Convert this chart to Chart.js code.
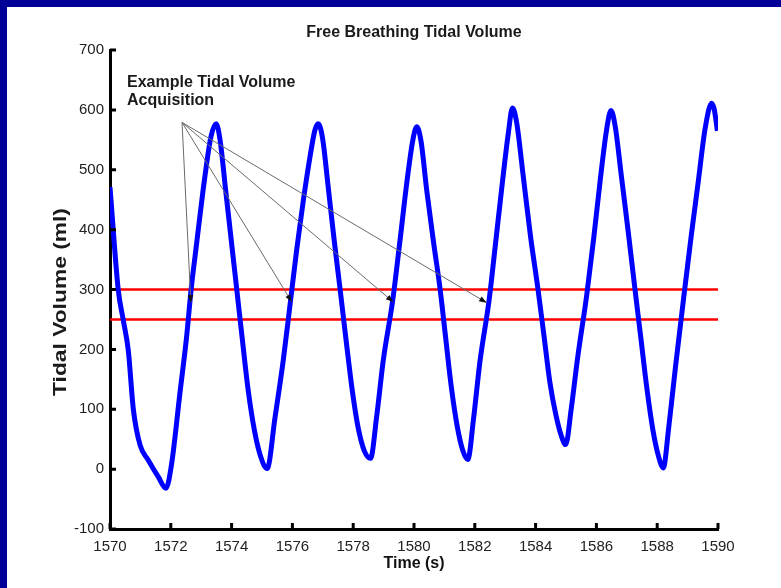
<!DOCTYPE html>
<html>
<head>
<meta charset="utf-8">
<script src="https://cdn.jsdelivr.net/npm/chart.js@4.4.0/dist/chart.umd.min.js"></script>
<style>
  html, body { margin: 0; padding: 0; background: #fff; }
  #wrap { position: relative; width: 781px; height: 588px; overflow: hidden; }
  #tidal { position: absolute; left: 0; top: 0; }
  .band { position: absolute; background: #000099; }
</style>
</head>
<body>
<div id="wrap">
  <canvas id="tidal" width="781" height="588"></canvas>
  <div class="band" style="left:0;top:0;width:781px;height:7px"></div>
  <div class="band" style="left:0;top:0;width:7px;height:588px"></div>
</div>
<script>
// Data

var times = [
  1570.00, 1570.27, 1570.44, 1570.60, 1570.77, 1570.99, 1571.26, 1571.59, 1571.84,
  1572.03, 1572.30, 1572.52, 1572.66, 1572.85, 1573.12, 1573.32, 1573.49,
  1573.62, 1573.80, 1574.00, 1574.17, 1574.35, 1574.55, 1574.75, 1574.95, 1575.17,
  1575.43, 1575.70, 1575.94, 1576.14, 1576.36, 1576.58, 1576.74, 1576.85,
  1577.00, 1577.18, 1577.38, 1577.57, 1577.76, 1577.96, 1578.16, 1578.37, 1578.57,
  1578.77, 1578.99, 1579.30, 1579.54, 1579.76, 1579.96, 1580.09,
  1580.23, 1580.42, 1580.64, 1580.86, 1581.04, 1581.22, 1581.42, 1581.60, 1581.77,
  1581.96, 1582.17, 1582.47, 1582.70, 1582.91, 1583.10, 1583.24,
  1583.38, 1583.58, 1583.83, 1584.08, 1584.27, 1584.47, 1584.67, 1584.85, 1584.99,
  1585.17, 1585.38, 1585.68, 1585.91, 1586.12, 1586.33, 1586.48,
  1586.62, 1586.82, 1587.05, 1587.27, 1587.46, 1587.66, 1587.86, 1588.04, 1588.20,
  1588.38, 1588.60, 1588.88, 1589.12, 1589.35, 1589.58, 1589.79, 1589.88, 1589.98
];
var volumes = [
  471, 300, 248, 199, 99, 40, 15, -13, -32,
  10, 127, 221, 296, 377, 488, 555, 577,
  550, 468, 377, 300, 218, 130, 65, 22, 1,
  87, 182, 282, 366, 449, 522, 566, 577,
  550, 470, 380, 300, 218, 135, 70, 30, 18,
  87, 182, 282, 382, 477, 549, 572,
  548, 465, 380, 300, 220, 140, 72, 32, 16,
  85, 180, 282, 385, 480, 560, 603,
  578, 495, 390, 300, 225, 145, 90, 55, 41,
  100, 185, 290, 385, 480, 565, 599,
  572, 490, 395, 300, 220, 135, 65, 22, 2,
  70, 170, 290, 390, 480, 570, 611, 600, 565
];

// threshold lines (ml)
var thresholds = [300, 250];

// annotation arrows: common origin and tips (time, volume)
var arrowFrom = [1572.37, 579];
var arrowTipTimes = [1572.66, 1575.98, 1579.32, 1582.39];
var arrowTipVolumes = [278, 279, 279, 278];

var noteLines = ['Example Tidal Volume', 'Acquisition'];

var xTicks = [1570, 1572, 1574, 1576, 1578, 1580, 1582, 1584, 1586, 1588, 1590];
var yTicks = [-100, 0, 100, 200, 300, 400, 500, 600, 700];

var FONT = '"Liberation Sans", Arial, Helvetica, sans-serif';

var curve = times.map(function (t, i) { return { x: t, y: volumes[i] }; });

var datasets = [{
  data: curve,
  showLine: true,
  borderColor: '#0000ff',
  borderWidth: 5,
  pointRadius: 0,
  cubicInterpolationMode: 'monotone'
}];
thresholds.forEach(function (v) {
  datasets.push({
    data: [{ x: xTicks[0], y: v }, { x: xTicks[xTicks.length - 1], y: v }],
    showLine: true,
    borderColor: '#ff0000',
    borderWidth: 2.5,
    pointRadius: 0
  });
});

// inward MATLAB style ticks, title and y label
var frame = {
  id: 'frame',
  afterDraw: function (chart) {
    var ctx = chart.ctx, a = chart.chartArea;
    var sx = chart.scales.x, sy = chart.scales.y;
    ctx.save();
    ctx.strokeStyle = '#000';
    ctx.lineWidth = 3;
    ctx.beginPath();
    yTicks.forEach(function (v) {
      var py = sy.getPixelForValue(v);
      ctx.moveTo(a.left, py);
      ctx.lineTo(a.left + 6, py);
    });
    xTicks.forEach(function (v) {
      var px = sx.getPixelForValue(v);
      ctx.moveTo(px, a.bottom);
      ctx.lineTo(px, a.bottom - 6);
    });
    ctx.stroke();

    // title
    ctx.fillStyle = '#1a1a1a';
    ctx.font = 'bold 16px ' + FONT;
    ctx.textAlign = 'center';
    ctx.textBaseline = 'middle';
    ctx.fillText('Free Breathing Tidal Volume', (a.left + a.right) / 2, 33);

    // y label, a bit stretched like the original
    ctx.translate(61, 302);
    ctx.rotate(-Math.PI / 2);
    ctx.scale(1.2, 1);
    ctx.font = 'bold 19px ' + FONT;
    ctx.fillText('Tidal Volume (ml)', 0, 0);
    ctx.restore();
  }
};

// arrows + text
var annotation = {
  id: 'annotation',
  afterDatasetsDraw: function (chart) {
    var ctx = chart.ctx;
    var sx = chart.scales.x, sy = chart.scales.y;
    var ox = sx.getPixelForValue(arrowFrom[0]);
    var oy = sy.getPixelForValue(arrowFrom[1]);
    ctx.save();
    arrowTipTimes.forEach(function (t, i) {
      var tx = sx.getPixelForValue(t);
      var ty = sy.getPixelForValue(arrowTipVolumes[i]);
      var ang = Math.atan2(ty - oy, tx - ox);
      ctx.strokeStyle = '#6a6a6a';
      ctx.lineWidth = 1;
      ctx.beginPath();
      ctx.moveTo(ox, oy);
      ctx.lineTo(tx, ty);
      ctx.stroke();
      ctx.fillStyle = '#111';
      ctx.beginPath();
      ctx.moveTo(tx, ty);
      ctx.lineTo(tx - 8 * Math.cos(ang - 0.35), ty - 8 * Math.sin(ang - 0.35));
      ctx.lineTo(tx - 8 * Math.cos(ang + 0.35), ty - 8 * Math.sin(ang + 0.35));
      ctx.closePath();
      ctx.fill();
    });
    ctx.fillStyle = '#1a1a1a';
    ctx.font = 'bold 16px ' + FONT;
    ctx.textAlign = 'left';
    ctx.textBaseline = 'alphabetic';
    var nx = sx.getPixelForValue(1570.56);
    var ny = sy.getPixelForValue(639);
    noteLines.forEach(function (s, i) {
      ctx.fillText(s, nx, ny + i * 18.5);
    });
    ctx.restore();
  }
};

new Chart(document.getElementById('tidal'), {
  type: 'scatter',
  data: { datasets: datasets },
  options: {
    responsive: false,
    animation: false,
    layout: { padding: { left: 0, right: 63, top: 50, bottom: 0 } },
    plugins: {
      legend: { display: false },
      tooltip: { enabled: false },
      title: { display: false }
    },
    scales: {
      x: {
        type: 'linear',
        min: 1570,
        max: 1590,
        afterFit: function (s) { s.height = 59; },
        afterBuildTicks: function (s) { s.ticks = xTicks.map(function (v) { return { value: v }; }); },
        grid: { display: false, drawTicks: false },
        border: { display: true, color: '#000', width: 3 },
        ticks: {
          padding: 9,
          color: '#222',
          font: { family: FONT, size: 15 },
          callback: function (v) { return String(v); }
        },
        title: {
          display: true,
          text: 'Time (s)',
          color: '#111',
          font: { family: FONT, size: 16, weight: 'bold' },
          padding: { top: 0, bottom: 15 }
        }
      },
      y: {
        min: -100,
        max: 700,
        afterFit: function (s) { s.width = 110; },
        afterBuildTicks: function (s) { s.ticks = yTicks.map(function (v) { return { value: v }; }); },
        grid: { display: false, drawTicks: false },
        border: { display: true, color: '#000', width: 3 },
        ticks: {
          padding: 6,
          color: '#222',
          font: { family: FONT, size: 15 },
          callback: function (v) { return String(v); }
        }
      }
    }
  },
  plugins: [frame, annotation]
});
</script>
</body>
</html>
